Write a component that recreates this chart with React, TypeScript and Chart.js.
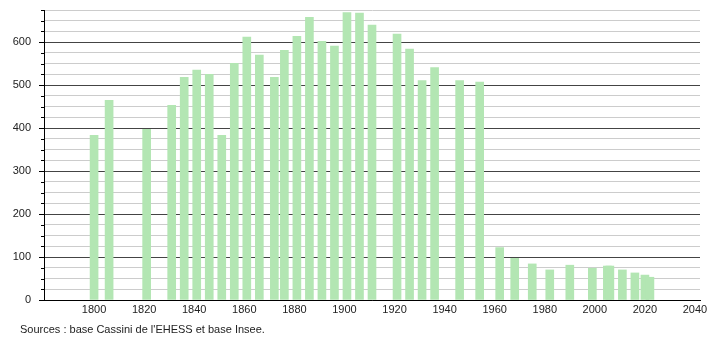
import React, { useEffect, useRef } from "react";
import { Chart, registerables } from "chart.js";

Chart.register(...registerables);

const years = [1800, 1806, 1821, 1831, 1836, 1841, 1846, 1851, 1856, 1861, 1866, 1872, 1876, 1881, 1886, 1891, 1896, 1901, 1906, 1911, 1921, 1926, 1931, 1936, 1946, 1954, 1962, 1968, 1975, 1982, 1990, 1999, 2005, 2006, 2011, 2016, 2020, 2022];
const population = [383, 465, 397, 453, 518, 535, 525, 383, 551, 612, 570, 518, 581, 614, 658, 602, 591, 669, 668, 640, 619, 584, 511, 541, 511, 507, 122, 97, 84, 70, 81, 74, 79, 79, 70, 63, 58, 53];
const xTickLabels = [1800, 1820, 1840, 1860, 1880, 1900, 1920, 1940, 1960, 1980, 2000, 2020, 2040];
const yTickLabels = [0, 100, 200, 300, 400, 500, 600];
const sourceText = "Sources : base Cassini de l'EHESS et base Insee.";

const FONT = "'Liberation Sans', Arial, sans-serif";

export default function App() {
  const ref = useRef<HTMLCanvasElement | null>(null);

  useEffect(() => {
    document.body.style.margin = "0";
    const canvas = ref.current;
    if (!canvas) return;

    const tickPlugin = {
      id: "yTicks",
      afterDraw(chart: any) {
        const y = chart.scales.y;
        const ctx = chart.ctx;
        const left = chart.chartArea.left;
        ctx.save();
        ctx.strokeStyle = "#000";
        ctx.lineWidth = 1;
        y.ticks.forEach((t: any) => {
          const py = Math.round(y.getPixelForValue(t.value)) + 0.5;
          const major = t.value % 100 === 0;
          ctx.beginPath();
          ctx.moveTo(left - (major ? 5 : 3), py);
          ctx.lineTo(left, py);
          ctx.stroke();
        });
        ctx.restore();
      },
    };

    const chart = new Chart(canvas, {
      type: "bar",
      data: {
        datasets: [
          {
            data: years.map((yr, i) => ({ x: yr, y: population[i] })),
            backgroundColor: "#b3e6b3",
            borderWidth: 0,
            barThickness: 8,
          },
        ],
      },
      options: {
        responsive: false,
        animation: false,
        events: [],
        layout: { padding: { top: 10, right: 10, left: 0, bottom: 0 } },
        plugins: { legend: { display: false }, tooltip: { enabled: false } },
        scales: {
          x: {
            type: "linear",
            min: 1780,
            max: 2042,
            offset: false,
            afterFit(scale: any) {
              scale.height = 40;
              scale.paddingLeft = 0;
              scale.paddingRight = 0;
            },
            afterBuildTicks(scale: any) {
              scale.ticks = xTickLabels.map((v) => ({ value: v }));
            },
            grid: { display: false, drawTicks: false },
            border: { display: true, color: "#000", width: 1 },
            ticks: {
              padding: 3,
              autoSkip: false,
              maxRotation: 0,
              color: "#222",
              font: { family: FONT, size: 11 },
              callback: (v: any) => String(v),
            },
          },
          y: {
            min: 0,
            max: 675,
            afterFit(scale: any) {
              scale.width = 44;
              scale.paddingTop = 0;
              scale.paddingBottom = 0;
            },
            afterBuildTicks(scale: any) {
              const t: any[] = [];
              for (let v = 0; v <= 675; v += 25) t.push({ value: v });
              scale.ticks = t;
            },
            grid: {
              drawTicks: false,
              color: (c: any) => (c.tick && c.tick.value % 100 === 0 ? "#444" : "#cccccc"),
              lineWidth: 1,
            },
            border: { display: true, color: "#000", width: 1 },
            ticks: {
              padding: 13,
              autoSkip: false,
              color: "#222",
              font: { family: FONT, size: 11 },
              callback: (v: any) => (yTickLabels.includes(Number(v)) ? String(v) : ""),
            },
          },
        },
      },
      plugins: [tickPlugin],
    } as any);

    return () => chart.destroy();
  }, []);

  return (
    <div style={{ position: "relative", width: 710, height: 340, background: "#fff" }}>
      <canvas ref={ref} width={710} height={340} style={{ position: "absolute", left: 0, top: 0 }} />
      <div
        style={{
          position: "absolute",
          left: 20,
          top: 323,
          fontFamily: FONT,
          fontSize: 11,
          color: "#222",
          whiteSpace: "nowrap",
        }}
      >
        {sourceText}
      </div>
    </div>
  );
}
